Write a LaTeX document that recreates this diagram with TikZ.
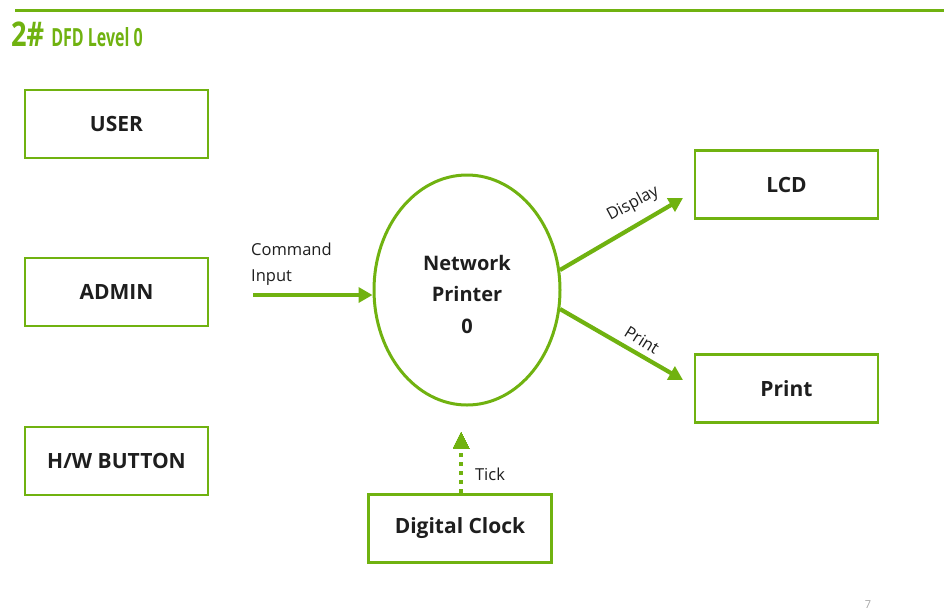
\documentclass[tikz,border=0pt]{standalone}
\usepackage{fontspec}
\setmainfont{Open Sans}
\usetikzlibrary{arrows.meta,shapes.geometric}
\definecolor{grn}{RGB}{112,178,16}
\definecolor{txt}{RGB}{30,30,30}
\tikzset{
  box/.style={draw=grn, line width=2.6pt, minimum width=183pt, minimum height=68pt, inner sep=0pt,
    font=\fontsize{21}{24}\selectfont\bfseries, text=txt},
  flow/.style={draw=grn, line width=4.2pt, -{Triangle[length=14pt,width=15pt]}},
  lbl/.style={font=\fontsize{16.5}{19}\selectfont, text=txt, inner sep=0pt},
}
\begin{document}
\begin{tikzpicture}[x=1pt,y=-1pt]
\useasboundingbox (0,0) rectangle (944,614);
\coordinate (tl) at (15,10);
\coordinate (tr) at (944,10);
\draw[grn, line width=3pt] (tl) -- (tr);
\node[anchor=base west, inner sep=0pt, text=grn] (title) at (11,46)
  {\scalebox{0.8}[1]{\fontsize{34}{34}\selectfont\bfseries 2\#}\hspace{7pt}\scalebox{0.64}[1]{\fontsize{25}{26}\selectfont\bfseries DFD Level 0}};
\node[box] (user) at (116.5,124) {USER};
\node[box] (admin) at (116.5,292) {ADMIN};
\node[box] (hw) at (116.5,461) {H/W BUTTON};
\node[draw=grn, line width=3pt, ellipse, minimum width=186pt, minimum height=230pt, inner sep=0pt] (np) at (467,290) {};
\node[align=center, font=\fontsize{20}{31.5}\selectfont\bfseries, text=txt, inner sep=0pt] (npt) at (467,294) {Network\\Printer\\0};
\node[box] (lcd) at (786.5,184.5) {LCD};
\node[box] (print) at (786.5,388.5) {Print};
\node[box] (clock) at (460,528.5) {Digital Clock};
\coordinate (cmd) at (253,295);
\coordinate (dispS) at (560,270);
\coordinate (dispE) at (683,198);
\coordinate (prS) at (560,309);
\coordinate (prE) at (683,380);
\node[lbl, anchor=south west, align=left, font=\fontsize{16.5}{26}\selectfont] (cmdl) at (251,286) {Command\\Input};
\draw[flow] (cmd) -- (np.west |- cmd);
\draw[flow] (dispS) -- (dispE);
\draw[flow] (prS) -- (prE);
\node[lbl, rotate=28] (dl) at (633,204) {Display};
\node[lbl, rotate=-32] (pl) at (642,340) {Print};
\draw[grn, line width=4.2pt, dash pattern=on 4pt off 5pt] (clock.north -| 461,0) -- (461,448);
\draw[grn, line width=0pt, fill=grn] (461,432) -- (453,448) -- (469,448) -- cycle;
\node[lbl] (tick) at (490,474) {Tick};
\node[font=\fontsize{11}{12}\selectfont, text=gray!70] (pg) at (868,605) {7};
\end{tikzpicture}
\end{document}
